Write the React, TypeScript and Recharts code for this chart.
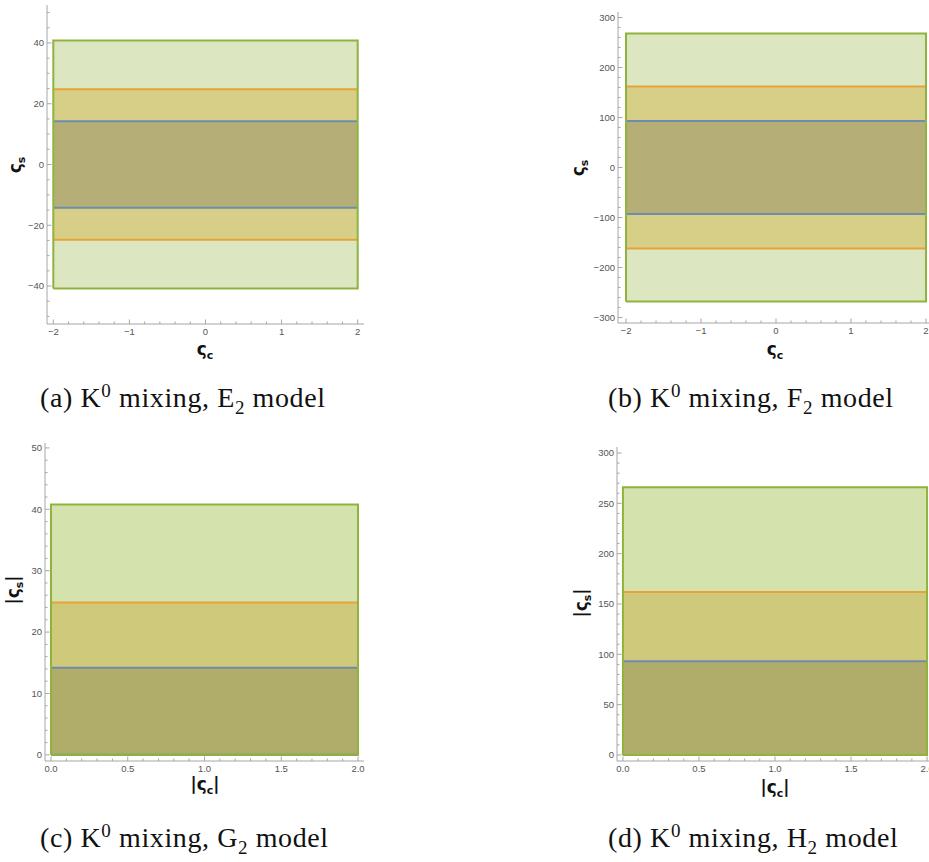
import React from 'react';
import { ComposedChart, Area, Line, XAxis, YAxis } from 'recharts';

// (a) E2 model: signed couplings
const xA = [-2, 2];
const greenA = [-40.8, 40.8];
const orangeA = [-24.8, 24.8];
const blueA = [-14.2, 14.2];

// (b) F2 model
const xB = [-2, 2];
const greenB = [-268, 268];
const orangeB = [-162, 162];
const blueB = [-93, 93];

// (c) G2 model: absolute values
const xC = [0, 2];
const greenC = [0, 40.8];
const orangeC = [0, 24.8];
const blueC = [0, 14.2];

// (d) H2 model
const xD = [0, 2];
const greenD = [0, 266];
const orangeD = [0, 162];
const blueD = [0, 93];

// tick labels
const xMajorSigned = [-2, -1, 0, 1, 2];
const xMajorAbs = [0, 0.5, 1, 1.5, 2];
const yMajorA = [-40, -20, 0, 20, 40];
const yMajorB = [-300, -200, -100, 0, 100, 200, 300];
const yMajorC = [0, 10, 20, 30, 40, 50];
const yMajorD = [0, 50, 100, 150, 200, 250, 300];

const steps = (lo: number, hi: number, step: number) => {
  const out: number[] = [];
  const n = Math.round((hi - lo) / step);
  for (let i = 0; i <= n; i++) out.push(+(lo + i * step).toFixed(6));
  return out;
};

const GREEN_LINE = '#8fb33d';
const ORANGE_LINE = '#e9a236';
const BLUE_LINE = '#6d8cae';
const FRAME = '#a6a6a6';
const LABEL = '#555';

const minus = (v: number) => (v < 0 ? '\u2212' + Math.abs(v) : String(v));
const oneDec = (v: number) => v.toFixed(1);

type Side = 'bottom' | 'top' | 'left' | 'right';

const frameTick = (side: Side, majors: number[], fmt: (v: number) => string) => (p: any) => {
  const v = p.payload.value;
  const isMajor = majors.some((m) => Math.abs(m - v) < 1e-6);
  const len = isMajor ? 4.5 : 2.5;
  const { x, y } = p;
  if (side === 'bottom') {
    return (
      <g>
        <line x1={x} x2={x} y1={y} y2={y - len} stroke={FRAME} />
        {isMajor && (
          <text x={x} y={y + 11} textAnchor="middle" fontSize={9.5} fill={LABEL} fontFamily="Liberation Sans">
            {fmt(v)}
          </text>
        )}
      </g>
    );
  }
  if (side === 'top') return <line x1={x} x2={x} y1={y} y2={y + len} stroke={FRAME} />;
  if (side === 'right') return <line x1={x} x2={x - len} y1={y} y2={y} stroke={FRAME} />;
  return (
    <g>
      <line x1={x} x2={x + len} y1={y} y2={y} stroke={FRAME} />
      {isMajor && (
        <text x={x - 3} y={y + 3.3} textAnchor="end" fontSize={9.5} fill={LABEL} fontFamily="Liberation Sans">
          {fmt(v)}
        </text>
      )}
    </g>
  );
};

interface PanelProps {
  xs: number[];
  green: number[];
  orange: number[];
  blue: number[];
  xDomain: [number, number];
  yDomain: [number, number];
  xTicks: number[];
  yTicks: number[];
  xMajor: number[];
  yMajor: number[];
  xFmt: (v: number) => string;
  yFmt: (v: number) => string;
  width: number;
  height: number;
  margin: { top: number; right: number; left: number; bottom: number };
  yAxisWidth: number;
  xAxisHeight: number;
  fills: [string, string, string];
}

const Panel = (p: PanelProps) => {
  const data = p.xs.map((x) => ({ x, green: p.green, orange: p.orange, blue: p.blue }));
  const [x0, x1] = p.xs;
  const [g0, g1] = p.green;
  const outline = [
    { x: x0, y: g0 },
    { x: x0, y: g1 },
    { x: x1, y: g1 },
    { x: x1, y: g0 },
    { x: x0, y: g0 },
  ];
  return (
    <ComposedChart width={p.width} height={p.height} data={data} margin={p.margin}>
      <XAxis
        xAxisId="b"
        dataKey="x"
        type="number"
        domain={p.xDomain}
        allowDataOverflow
        ticks={p.xTicks}
        interval={0}
        tickSize={0}
        tickMargin={0}
        height={p.xAxisHeight}
        axisLine={{ stroke: FRAME }}
        tickLine={false}
        tick={frameTick('bottom', p.xMajor, p.xFmt)}
      />
      <XAxis
        xAxisId="t"
        orientation="top"
        dataKey="x"
        type="number"
        domain={p.xDomain}
        allowDataOverflow
        ticks={p.xTicks}
        interval={0}
        tickSize={0}
        tickMargin={0}
        height={0}
        axisLine={{ stroke: FRAME }}
        tickLine={false}
        tick={frameTick('top', p.xMajor, p.xFmt)}
      />
      <YAxis
        yAxisId="l"
        type="number"
        domain={p.yDomain}
        allowDataOverflow
        ticks={p.yTicks}
        interval={0}
        tickSize={0}
        tickMargin={0}
        width={p.yAxisWidth}
        axisLine={{ stroke: FRAME }}
        tickLine={false}
        tick={frameTick('left', p.yMajor, p.yFmt)}
      />
      <YAxis
        yAxisId="r"
        orientation="right"
        type="number"
        domain={p.yDomain}
        allowDataOverflow
        ticks={p.yTicks}
        interval={0}
        tickSize={0}
        tickMargin={0}
        width={0}
        axisLine={{ stroke: FRAME }}
        tickLine={false}
        tick={frameTick('right', p.yMajor, p.yFmt)}
      />
      <Area xAxisId="b" yAxisId="l" type="linear" dataKey="green" stroke="none" fill={p.fills[0]} fillOpacity={1} isAnimationActive={false} />
      <Area xAxisId="b" yAxisId="l" type="linear" dataKey="orange" stroke={ORANGE_LINE} strokeWidth={2} fill={p.fills[1]} fillOpacity={1} isAnimationActive={false} />
      <Area xAxisId="b" yAxisId="l" type="linear" dataKey="blue" stroke={BLUE_LINE} strokeWidth={2} fill={p.fills[2]} fillOpacity={1} isAnimationActive={false} />
      <Line xAxisId="b" yAxisId="l" data={outline} dataKey="y" type="linear" stroke={GREEN_LINE} strokeWidth={2} dot={false} isAnimationActive={false} />
    </ComposedChart>
  );
};

const titleStyle: React.CSSProperties = {
  position: 'absolute',
  fontFamily: 'DejaVu Sans',
  fontWeight: 'bold',
  fontSize: 17,
  color: '#111',
  whiteSpace: 'nowrap',
  lineHeight: 1,
};

const Title = ({ x, y, text, sub, bars, rotate }: { x: number; y: number; text: string; sub: string; bars?: boolean; rotate?: boolean }) => (
  <div
    style={{
      ...titleStyle,
      left: x,
      top: y,
      transform: `translate(-50%, -50%)${rotate ? ' rotate(-90deg)' : ''}`,
    }}
  >
    {bars ? '|' : ''}
    {text}
    <sub style={{ fontSize: 11 }}>{sub}</sub>
    {bars ? '|' : ''}
  </div>
);

const captionStyle: React.CSSProperties = {
  position: 'absolute',
  fontFamily: 'Liberation Serif',
  fontSize: 28,
  letterSpacing: 0.6,
  color: '#111',
  whiteSpace: 'nowrap',
  lineHeight: 1,
};

const Caption = ({ x, y, tag, model }: { x: number; y: number; tag: string; model: string }) => (
  <div style={{ ...captionStyle, left: x, top: y }}>
    ({tag}) K<sup style={{ fontSize: 19 }}>0</sup> mixing, {model}
    <sub style={{ fontSize: 19 }}>2</sub> model
  </div>
);

const fillsTop: [string, string, string] = ['#dce7c1', '#d7cf88', '#b5af77'];
const fillsBottom: [string, string, string] = ['#d4e2ae', '#cfc97c', '#b0ac6a'];

export default function App() {
  return (
    <div style={{ position: 'absolute', left: 0, top: 0, width: 929, height: 862, overflow: 'hidden', background: '#fff' }}>
      <div style={{ position: 'absolute', left: 0, top: 0 }}>
        <Panel
          xs={xA} green={greenA} orange={orangeA} blue={blueA}
          xDomain={[-2.083, 2.083]} yDomain={[-52.5, 52.5]}
          xTicks={steps(-2, 2, 0.2)} yTicks={steps(-50, 50, 5)}
          xMajor={xMajorSigned} yMajor={yMajorA} xFmt={minus} yFmt={minus}
          width={380} height={345} margin={{ top: 5, right: 16, left: 0, bottom: 0 }}
          yAxisWidth={47} xAxisHeight={21} fills={fillsTop}
        />
      </div>
      <div style={{ position: 'absolute', left: 560, top: 0 }}>
        <Panel
          xs={xB} green={greenB} orange={orangeB} blue={blueB}
          xDomain={[-2.107, 2.107]} yDomain={[-311, 311]}
          xTicks={steps(-2, 2, 0.2)} yTicks={steps(-300, 300, 20)}
          xMajor={xMajorSigned} yMajor={yMajorB} xFmt={minus} yFmt={minus}
          width={380} height={345} margin={{ top: 12, right: 6, left: 0, bottom: 0 }}
          yAxisWidth={58} xAxisHeight={22} fills={fillsTop}
        />
      </div>
      <div style={{ position: 'absolute', left: 0, top: 430 }}>
        <Panel
          xs={xC} green={greenC} orange={orangeC} blue={blueC}
          xDomain={[-0.039, 2.039]} yDomain={[-1, 50.8]}
          xTicks={steps(0, 2, 0.1)} yTicks={steps(0, 50, 2)}
          xMajor={xMajorAbs} yMajor={yMajorC} xFmt={oneDec} yFmt={minus}
          width={380} height={352} margin={{ top: 13, right: 16, left: 0, bottom: 0 }}
          yAxisWidth={45} xAxisHeight={21} fills={fillsBottom}
        />
      </div>
      <div style={{ position: 'absolute', left: 560, top: 430 }}>
        <Panel
          xs={xD} green={greenD} orange={orangeD} blue={blueD}
          xDomain={[-0.039, 2.039]} yDomain={[-6, 306]}
          xTicks={steps(0, 2, 0.1)} yTicks={steps(0, 300, 10)}
          xMajor={xMajorAbs} yMajor={yMajorD} xFmt={oneDec} yFmt={minus}
          width={380} height={352} margin={{ top: 17, right: 7, left: 0, bottom: 0 }}
          yAxisWidth={57} xAxisHeight={21} fills={fillsBottom}
        />
      </div>

      <Title x={17} y={165} text="ς" sub="s" rotate />
      <Title x={205} y={351} text="ς" sub="c" />
      <Title x={580} y={168} text="ς" sub="s" rotate />
      <Title x={775} y={351} text="ς" sub="c" />
      <Title x={15} y={590} text="ς" sub="s" bars rotate />
      <Title x={205} y={786} text="ς" sub="c" bars />
      <Title x={583} y={603} text="ς" sub="s" bars rotate />
      <Title x={775} y={789} text="ς" sub="c" bars />

      <Caption x={40} y={381} tag="a" model="E" />
      <Caption x={608} y={381} tag="b" model="F" />
      <Caption x={40} y={821} tag="c" model="G" />
      <Caption x={608} y={821} tag="d" model="H" />
    </div>
  );
}
